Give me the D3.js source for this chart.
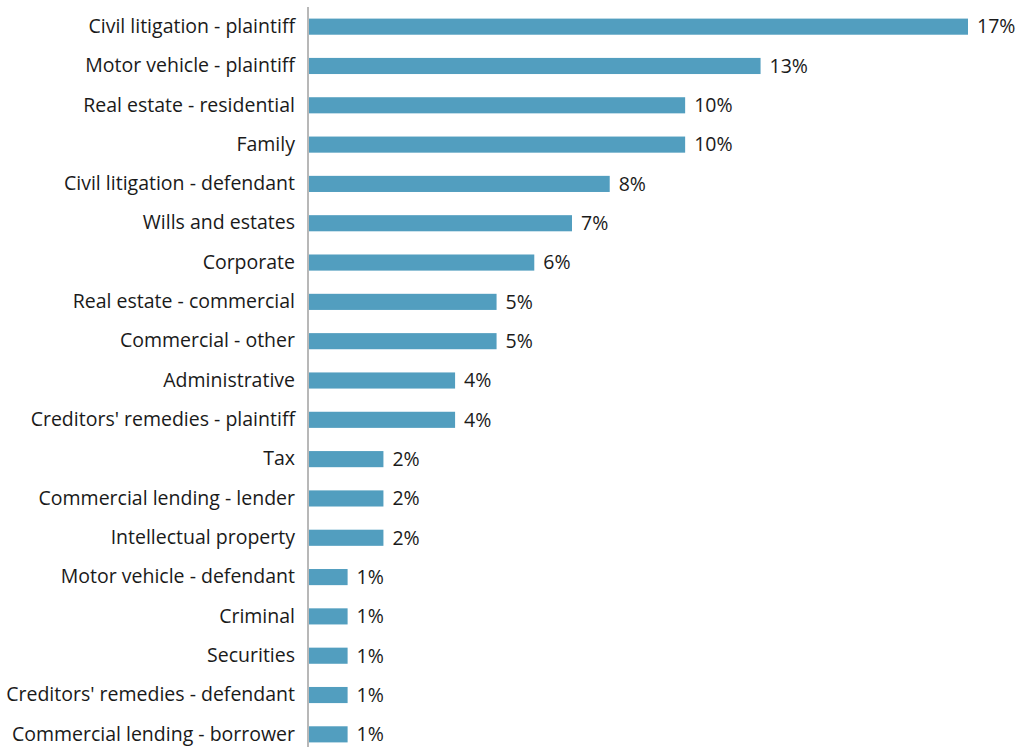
<!DOCTYPE html>
<html>
<head>
<meta charset="utf-8">
<script src="https://cdn.jsdelivr.net/npm/d3@7"></script>
<style>
  body { margin: 0; background: #fff; }
  text { font-family: "Open Sans", sans-serif; fill: #1a1a1a; }
</style>
</head>
<body>
<script>
// Practice areas, top to bottom
const categories = [
    "Civil litigation - plaintiff",
    "Motor vehicle - plaintiff",
    "Real estate - residential",
    "Family",
    "Civil litigation - defendant",
    "Wills and estates",
    "Corporate",
    "Real estate - commercial",
    "Commercial - other",
    "Administrative",
    "Creditors' remedies - plaintiff",
    "Tax",
    "Commercial lending - lender",
    "Intellectual property",
    "Motor vehicle - defendant",
    "Criminal",
    "Securities",
    "Creditors' remedies - defendant",
    "Commercial lending - borrower"
];

// Bar lengths (percent)
const values = [17.5, 12, 10, 10, 8, 7, 6, 5, 5, 3.9, 3.9, 2, 2, 2, 1.05, 1.05, 1.05, 1.05, 1.05];

// Printed data labels
const valueLabels = ["17%", "13%", "10%", "10%", "8%", "7%", "6%", "5%", "5%", "4%", "4%",
    "2%", "2%", "2%", "1%", "1%", "1%", "1%", "1%"];

const width = 1017, height = 747;
const margin = { top: 7, left: 308 };

const svg = d3.select("body")
    .append("svg")
    .attr("width", width)
    .attr("height", height);

const x = d3.scaleLinear()
    .domain([0, 17.5])
    .range([margin.left, 968]);

const y = d3.scaleBand()
    .domain(categories)
    .range([margin.top, 754])
    .paddingInner(0.59)
    .paddingOuter(0.295);

const rows = categories.map((c, i) => ({ cat: c, value: values[i], label: valueLabels[i] }));

// Bars
svg.append("g")
    .selectAll("rect")
    .data(rows)
    .join("rect")
    .attr("x", x(0) + 1)
    .attr("y", d => y(d.cat))
    .attr("width", d => x(d.value) - x(0) - 1)
    .attr("height", y.bandwidth())
    .attr("fill", "#529ebf");

// Value labels
svg.append("g")
    .selectAll("text")
    .data(rows)
    .join("text")
    .attr("x", d => x(d.value) + 9)
    .attr("y", d => y(d.cat) + y.bandwidth() / 2)
    .attr("dy", "0.35em")
    .style("font-size", "19.5px")
    .text(d => d.label);

// Category axis
const axis = svg.append("g")
    .attr("transform", `translate(${margin.left},0)`)
    .call(d3.axisLeft(y).tickSize(0).tickPadding(13));

axis.select(".domain")
    .attr("stroke", "#a0a0a0")
    .attr("stroke-width", 1.5)
    .attr("d", `M0,${margin.top}V${height}`);

axis.selectAll(".tick text")
    .style("font-size", "19.5px")
    .style("font-family", "Open Sans, sans-serif")
    .attr("fill", "#1a1a1a");
</script>
</body>
</html>
